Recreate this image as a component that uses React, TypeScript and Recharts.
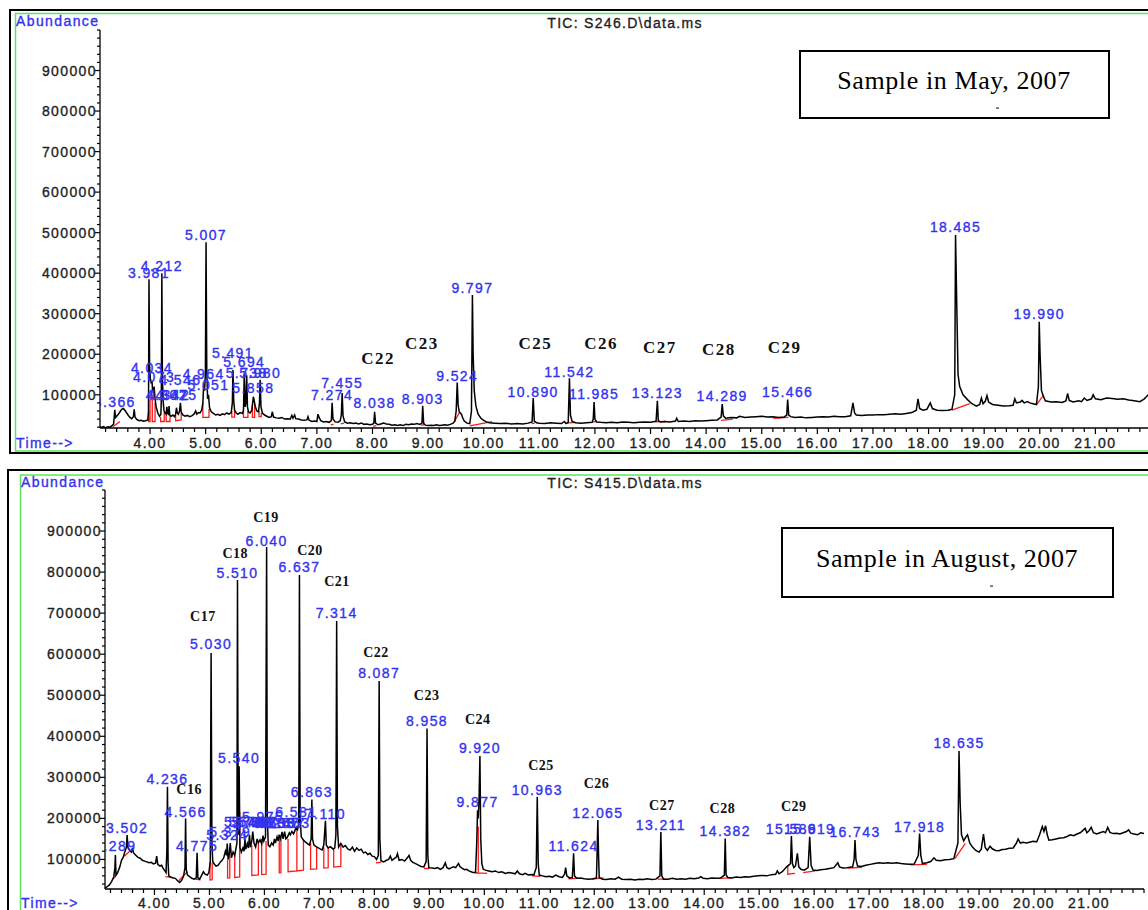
import React from "react";
import { ComposedChart, Line, Scatter, XAxis, YAxis } from "recharts";

type Pt = [number, number];

// ---------- S246.D : sample taken in May 2007 ----------
const mayPeakTimes = [
  3.366, 3.981, 4.034, 4.073, 4.212, 4.302, 4.342, 4.475, 4.546, 4.964, 5.007, 5.051,
  5.491, 5.694, 5.738, 5.858, 5.98, 7.274, 7.455, 8.038, 8.903, 9.524, 9.797, 10.89,
  11.542, 11.985, 13.123, 14.289, 15.466, 18.485, 19.99,
];
const mayPeakHeights = [
  63000, 385000, 135000, 120000, 400000, 70000, 72000, 68000, 80000, 125000, 476000, 100000,
  161000, 152000, 148000, 95000, 137000, 80000, 104000, 58000, 73000, 130000, 346000, 92000,
  141000, 82000, 85000, 77000, 88000, 494000, 280000,
];
// abundance at which each retention-time label sits
const mayLabelLevels = [
  70500, 388800, 153000, 131500, 406100, 87100, 87100, 87100, 124000, 138700, 481900, 111700,
  191500, 169300, 141800, 104400, 141800, 87100, 116700, 67300, 77200, 134000, 350300, 93700,
  144600, 88800, 91300, 84600, 93700, 502300, 286900,
];
// signal between the labelled apexes
const mayBackground: Pt[] = [
  [3.1, 21000], [3.13, 19500], [3.16, 21500], [3.2, 19000], [3.24, 21000], [3.28, 20000], [3.31, 23000], [3.345, 28000],
  [3.38, 44000], [3.4, 47000], [3.43, 52000], [3.46, 58000], [3.49, 64000], [3.52, 66000], [3.55, 61000], [3.58, 55000],
  [3.61, 49000], [3.64, 44000], [3.67, 41000], [3.7, 46000], [3.715, 64000], [3.73, 45000], [3.76, 39000], [3.8, 36000],
  [3.84, 37000], [3.88, 35000], [3.92, 36000], [3.96, 38000], [3.972, 60000],
  [3.992, 170000], [4.005, 140000], [4.02, 128000], [4.045, 112000], [4.06, 108000],
  [4.09, 90000], [4.11, 70000], [4.14, 55000], [4.17, 47000], [4.195, 52000], [4.203, 90000],
  [4.222, 150000], [4.235, 85000], [4.25, 62000], [4.27, 55000], [4.29, 52000], [4.315, 54000], [4.33, 52000],
  [4.355, 50000], [4.38, 47000], [4.41, 50000], [4.44, 46000], [4.46, 52000], [4.49, 55000], [4.51, 52000], [4.53, 60000],
  [4.56, 58000], [4.59, 50000], [4.63, 47000], [4.67, 49000], [4.71, 46000], [4.75, 48000], [4.79, 52000], [4.82, 60000],
  [4.84, 52000], [4.87, 56000], [4.9, 55000], [4.93, 63000], [4.95, 80000], [4.98, 110000], [4.995, 150000],
  [5.02, 160000], [5.035, 90000], [5.07, 68000], [5.1, 58000], [5.14, 54000], [5.18, 50000], [5.22, 52000], [5.26, 49000],
  [5.3, 53000], [5.34, 51000], [5.38, 55000], [5.42, 52000], [5.46, 56000], [5.48, 80000], [5.505, 85000], [5.52, 62000],
  [5.55, 55000], [5.58, 52000], [5.62, 56000], [5.66, 54000], [5.68, 62000], [5.71, 70000], [5.725, 80000],
  [5.752, 70000], [5.77, 58000], [5.8, 55000], [5.83, 62000], [5.845, 80000], [5.87, 88000], [5.89, 72000], [5.92, 60000],
  [5.95, 58000], [5.968, 80000], [5.995, 70000], [6.02, 55000], [6.06, 50000], [6.1, 47000], [6.14, 44000], [6.18, 46000],
  [6.2, 58000], [6.22, 45000], [6.27, 43000], [6.32, 42000], [6.37, 44000], [6.42, 40000], [6.47, 41000], [6.52, 40000],
  [6.55, 49000], [6.57, 42000], [6.6, 50000], [6.62, 41000], [6.67, 40000], [6.72, 38000], [6.77, 37000], [6.82, 38000],
  [6.84, 46000], [6.86, 37000], [6.91, 34000], [6.96, 35000], [7.0, 34000], [7.02, 52000], [7.04, 44000], [7.07, 36000],
  [7.12, 33000], [7.17, 34000], [7.22, 32000], [7.26, 36000], [7.29, 40000], [7.33, 33000], [7.38, 32000], [7.42, 36000],
  [7.44, 50000], [7.47, 48000], [7.5, 33000], [7.55, 30000], [7.6, 31000], [7.65, 29000], [7.7, 30000], [7.75, 28000],
  [7.8, 30000], [7.85, 27000], [7.9, 28000], [7.95, 26000], [8.0, 27000], [8.025, 30000], [8.055, 30000], [8.1, 26000],
  [8.15, 28000], [8.2, 30000], [8.25, 28000], [8.3, 27000], [8.35, 25000], [8.4, 26000], [8.45, 24000], [8.5, 26000],
  [8.55, 24000], [8.6, 27000], [8.65, 26000], [8.7, 28000], [8.75, 27000], [8.8, 29000], [8.85, 27000], [8.89, 30000],
  [8.92, 30000], [8.95, 25000], [9.0, 24000], [9.05, 25000], [9.1, 24000], [9.15, 26000], [9.2, 24000], [9.25, 25000],
  [9.3, 26000], [9.35, 25000], [9.4, 27000], [9.45, 30000], [9.48, 35000], [9.505, 60000], [9.54, 75000], [9.56, 58000],
  [9.58, 55000], [9.6, 52000], [9.62, 44000], [9.65, 35000], [9.7, 30000], [9.75, 29000], [9.78, 60000],
  [9.81, 200000], [9.83, 110000], [9.86, 72000], [9.9, 52000], [9.95, 42000], [10.0, 37000], [10.05, 33000], [10.1, 31000],
  [10.2, 30000], [10.3, 29000], [10.4, 30000], [10.5, 28000], [10.6, 29000], [10.7, 28000], [10.8, 30000], [10.87, 33000],
  [10.91, 35000], [10.95, 31000], [11.0, 30000], [11.1, 29000], [11.2, 31000], [11.3, 30000], [11.4, 29000], [11.45, 34000],
  [11.48, 29000], [11.52, 32000], [11.56, 50000], [11.59, 34000], [11.65, 31000], [11.75, 30000], [11.85, 31000],
  [11.95, 32000], [11.97, 40000], [12.0, 40000], [12.03, 33000], [12.1, 32000], [12.2, 31000], [12.3, 32000], [12.4, 31000],
  [12.5, 33000], [12.6, 32000], [12.7, 31000], [12.8, 32000], [12.9, 33000], [13.0, 32000], [13.1, 35000], [13.14, 36000],
  [13.18, 33000], [13.25, 34000], [13.35, 33000], [13.45, 35000], [13.47, 42000], [13.5, 34000], [13.6, 35000],
  [13.7, 34000], [13.8, 36000], [13.9, 35000], [14.0, 36000], [14.1, 37000], [14.2, 38000], [14.27, 45000], [14.31, 48000],
  [14.35, 42000], [14.45, 44000], [14.55, 43000], [14.6, 47000], [14.7, 44000], [14.8, 45000], [14.9, 46000], [15.0, 47000],
  [15.1, 45000], [15.2, 46000], [15.3, 44000], [15.4, 45000], [15.45, 50000], [15.485, 50000], [15.52, 46000],
  [15.6, 44000], [15.7, 45000], [15.8, 43000], [15.9, 44000], [16.0, 45000], [16.1, 46000], [16.2, 45000], [16.3, 47000],
  [16.4, 46000], [16.5, 46000], [16.6, 48000], [16.64, 80000], [16.67, 55000], [16.7, 50000], [16.8, 49000], [16.9, 50000],
  [17.0, 50000], [17.1, 51000], [17.2, 51000], [17.3, 52000], [17.4, 53000], [17.5, 52000], [17.6, 54000], [17.7, 56000],
  [17.78, 62000], [17.81, 90000], [17.84, 66000], [17.9, 62000], [17.97, 64000], [18.03, 80000], [18.07, 66000],
  [18.15, 62000], [18.25, 61000], [18.35, 62000], [18.42, 64000], [18.47, 100000],
  [18.51, 300000], [18.53, 150000], [18.56, 120000], [18.62, 100000], [18.7, 88000], [18.78, 78000], [18.86, 72000],
  [18.92, 76000], [18.95, 92000], [18.98, 78000], [19.02, 84000], [19.05, 98000], [19.08, 82000], [19.15, 76000],
  [19.25, 74000], [19.35, 72000], [19.45, 73000], [19.52, 74000], [19.55, 90000], [19.58, 80000], [19.65, 82000],
  [19.68, 86000], [19.72, 80000], [19.78, 83000], [19.82, 80000], [19.88, 78000], [19.94, 76000], [19.975, 120000],
  [20.005, 200000], [20.03, 110000], [20.06, 98000], [20.1, 85000], [20.2, 82000], [20.3, 83000], [20.4, 81000],
  [20.47, 85000], [20.5, 103000], [20.53, 86000], [20.6, 82000], [20.7, 85000], [20.75, 83000], [20.8, 92000],
  [20.85, 86000], [20.93, 90000], [20.96, 100000], [21.0, 90000], [21.1, 88000], [21.2, 92000], [21.3, 91000],
  [21.4, 89000], [21.5, 90000], [21.6, 87000], [21.7, 85000], [21.8, 83000], [21.88, 90000], [21.95, 100000], [22.0, 98000],
];
// integration baselines and drop lines
const mayIntegration: Pt[][] = [
  [[3.33, 21000], [3.46, 34000]],
  [[3.975, 60000], [3.975, 34000], [4.0, 34000], [4.0, 90000]],
  [[4.04, 100000], [4.04, 34000], [4.09, 34000], [4.09, 80000]],
  [[4.19, 45000], [4.19, 34000], [4.255, 34000], [4.255, 60000]],
  [[4.29, 50000], [4.29, 34000], [4.36, 34000], [4.36, 48000]],
  [[4.46, 50000], [4.46, 36000], [4.56, 38000], [4.56, 56000]],
  [[4.95, 80000], [4.95, 44000], [5.06, 44000], [5.06, 65000]],
  [[5.47, 60000], [5.47, 45000], [5.52, 45000], [5.52, 60000]],
  [[5.68, 60000], [5.68, 44000], [5.76, 44000], [5.76, 60000]],
  [[5.84, 75000], [5.84, 44000], [5.88, 44000], [5.88, 80000]],
  [[5.96, 60000], [5.96, 46000], [6.0, 46000], [6.0, 55000]],
  [[7.25, 26000], [7.3, 27000]],
  [[7.43, 28000], [7.49, 30000]],
  [[8.01, 22000], [8.07, 24000]],
  [[8.87, 25000], [8.93, 26000]],
  [[9.47, 33000], [9.56, 55000]],
  [[9.75, 23000], [10.15, 34000]],
  [[10.86, 29000], [10.92, 30000]],
  [[11.49, 30000], [11.66, 32000]],
  [[11.96, 33000], [12.03, 34000]],
  [[13.07, 33000], [13.28, 34000]],
  [[14.27, 37000], [14.48, 40000]],
  [[15.21, 42000], [15.48, 44000]],
  [[18.42, 62000], [18.74, 78000]],
  [[19.95, 77000], [20.07, 100000]],
];
const mayAlkaneNames = ["C22", "C23", "C25", "C26", "C27", "C28", "C29"];
const mayAlkaneTimes = [8.1, 8.89, 10.93, 12.11, 13.17, 14.23, 15.41];
const mayAlkaneLevels = [190700, 225300, 225300, 225300, 215400, 212900, 215400];

// ---------- S415.D : sample taken in August 2007 ----------
const augPeakTimes = [
  3.289, 3.502, 4.236, 4.566, 4.775, 5.03, 5.324, 5.379, 5.51, 5.54, 5.646, 5.728, 5.788,
  5.867, 5.975, 6.04, 6.183, 6.267, 6.367, 6.453, 6.581, 6.637, 6.863, 7.11, 7.314, 8.087,
  8.958, 9.877, 9.92, 10.963, 11.624, 12.065, 13.211, 14.382, 15.586, 15.919, 16.743,
  17.918, 18.635,
];
const augPeakHeights = [
  111000, 159500, 277000, 200000, 116000, 603000, 139000, 140000, 781000, 327000, 150000, 160000, 168000,
  150000, 158000, 861000, 150000, 160000, 168000, 165000, 178000, 793000, 246000, 194000, 681000, 535000,
  419000, 220000, 352000, 253000, 115000, 196000, 167000, 151000, 157000, 155000, 147000,
  163000, 364000,
];
const augLabelLevels = [
  120600, 163700, 283800, 204100, 120600, 612000, 147400, 155400, 784900, 334200, 179000, 179000, 179000,
  179000, 191200, 864300, 176600, 176600, 176600, 176600, 204100, 800200, 251400, 198500, 687400, 542000,
  425100, 227000, 358600, 257000, 121300, 200200, 171700, 157800, 161900, 161900, 155400,
  167600, 370700,
];
const augBackground: Pt[] = [
  [3.1, 30000], [3.14, 34000], [3.18, 38000], [3.22, 46000], [3.26, 58000], [3.28, 80000],
  [3.3, 62000], [3.33, 68000], [3.37, 82000], [3.4, 98000], [3.43, 105000], [3.46, 118000], [3.49, 130000],
  [3.52, 128000], [3.55, 122000], [3.58, 118000], [3.6, 128000], [3.62, 116000], [3.66, 110000], [3.7, 105000],
  [3.74, 103000], [3.78, 98000], [3.82, 96000], [3.86, 94000], [3.9, 92000], [3.94, 93000], [3.98, 89000],
  [4.02, 91000], [4.04, 108000], [4.06, 88000], [4.1, 84000], [4.13, 86000], [4.15, 80000], [4.18, 74000],
  [4.21, 68000], [4.225, 120000], [4.248, 90000], [4.26, 60000], [4.3, 57000], [4.34, 55000], [4.38, 54000],
  [4.42, 48000], [4.46, 44000], [4.5, 50000], [4.53, 60000], [4.555, 80000], [4.578, 75000], [4.6, 62000],
  [4.64, 58000], [4.68, 54000], [4.72, 52000], [4.76, 55000], [4.79, 55000], [4.82, 52000], [4.86, 62000],
  [4.89, 70000], [4.92, 64000], [4.96, 62000], [4.99, 68000], [5.015, 95000], [5.045, 140000], [5.06, 95000],
  [5.09, 88000], [5.12, 84000], [5.16, 86000], [5.2, 94000], [5.23, 98000], [5.26, 104000], [5.29, 120000],
  [5.31, 110000], [5.34, 100000], [5.36, 112000], [5.4, 104000], [5.43, 118000], [5.46, 110000], [5.48, 125000],
  [5.5, 140000], [5.522, 200000], [5.53, 160000], [5.555, 130000], [5.58, 118000], [5.61, 128000], [5.63, 120000],
  [5.66, 125000], [5.69, 139000], [5.71, 128000], [5.745, 130000], [5.77, 145000], [5.81, 140000], [5.84, 130000],
  [5.89, 140000], [5.92, 148000], [5.95, 138000], [5.99, 145000], [6.02, 155000], [6.052, 200000], [6.07, 135000],
  [6.1, 131000], [6.13, 140000], [6.16, 135000], [6.2, 140000], [6.23, 155000], [6.25, 145000], [6.29, 150000],
  [6.32, 167000], [6.34, 150000], [6.39, 150000], [6.41, 152000], [6.43, 158000], [6.47, 160000], [6.5, 168000],
  [6.53, 162000], [6.56, 172000], [6.6, 170000], [6.625, 190000], [6.65, 200000], [6.67, 155000], [6.71, 147000],
  [6.75, 142000], [6.79, 138000], [6.82, 135000], [6.85, 150000], [6.875, 150000], [6.9, 135000], [6.94, 131000],
  [6.98, 128000], [7.02, 125000], [7.05, 123000], [7.08, 135000], [7.125, 135000], [7.16, 128000], [7.2, 131000],
  [7.25, 125000], [7.28, 128000], [7.3, 160000], [7.328, 180000], [7.35, 130000], [7.39, 139000], [7.43, 130000],
  [7.47, 134000], [7.52, 125000], [7.56, 123000], [7.6, 130000], [7.64, 120000], [7.68, 128000], [7.72, 122000],
  [7.76, 125000], [7.8, 116000], [7.84, 118000], [7.88, 112000], [7.92, 115000], [7.96, 108000], [8.0, 107000],
  [8.04, 100000], [8.072, 110000], [8.1, 150000], [8.12, 97000], [8.17, 94000], [8.22, 98000], [8.26, 100000],
  [8.29, 108000], [8.32, 98000], [8.36, 102000], [8.4, 106000], [8.42, 114000], [8.45, 98000], [8.5, 100000],
  [8.55, 96000], [8.6, 104000], [8.63, 110000], [8.66, 98000], [8.7, 93000], [8.75, 90000], [8.8, 86000],
  [8.85, 83000], [8.9, 82000], [8.942, 95000], [8.972, 110000], [8.99, 80000], [9.05, 79000], [9.1, 78000],
  [9.15, 80000], [9.2, 76000], [9.25, 80000], [9.29, 92000], [9.32, 80000], [9.36, 77000], [9.4, 80000],
  [9.44, 82000], [9.48, 80000], [9.51, 86000], [9.53, 90000], [9.56, 82000], [9.6, 78000], [9.64, 75000],
  [9.68, 76000], [9.72, 72000], [9.76, 70000], [9.8, 68000], [9.84, 68000], [9.862, 140000], [9.89, 200000],
  [9.905, 250000], [9.935, 150000], [9.955, 90000], [9.98, 76000], [10.02, 74000], [10.08, 72000], [10.14, 70000],
  [10.2, 72000], [10.26, 68000], [10.32, 70000], [10.38, 66000], [10.44, 68000], [10.5, 67000], [10.56, 65000],
  [10.6, 72000], [10.64, 65000], [10.7, 63000], [10.74, 66000], [10.8, 62000], [10.86, 63000], [10.9, 62000],
  [10.945, 80000], [10.98, 90000], [11.0, 62000], [11.06, 60000], [11.12, 58000], [11.18, 59000], [11.24, 57000],
  [11.3, 62000], [11.36, 58000], [11.42, 56000], [11.46, 64000], [11.48, 80000], [11.5, 60000], [11.55, 55000],
  [11.6, 56000], [11.612, 80000], [11.64, 60000], [11.68, 54000], [11.75, 55000], [11.82, 53000], [11.9, 52000],
  [11.98, 53000], [12.04, 55000], [12.052, 120000], [12.078, 110000], [12.09, 56000], [12.15, 52000], [12.22, 51000],
  [12.3, 53000], [12.38, 52000], [12.44, 57000], [12.5, 52000], [12.58, 51000], [12.66, 52000], [12.74, 50000],
  [12.82, 52000], [12.9, 51000], [12.96, 53000], [13.05, 51000], [13.12, 52000], [13.195, 60000], [13.228, 60000],
  [13.26, 52000], [13.34, 52000], [13.42, 54000], [13.5, 52000], [13.58, 53000], [13.66, 52000], [13.74, 54000],
  [13.82, 53000], [13.9, 55000], [13.94, 58000], [13.98, 54000], [14.06, 53000], [14.14, 55000], [14.22, 54000],
  [14.3, 55000], [14.366, 62000], [14.398, 62000], [14.43, 56000], [14.5, 55000], [14.58, 57000], [14.66, 56000],
  [14.74, 58000], [14.82, 57000], [14.9, 59000], [14.98, 60000], [15.06, 61000], [15.14, 60000], [15.22, 63000],
  [15.3, 64000], [15.33, 72000], [15.36, 65000], [15.42, 70000], [15.5, 82000], [15.57, 90000], [15.605, 90000],
  [15.63, 80000], [15.66, 84000], [15.695, 115000], [15.72, 82000], [15.76, 76000], [15.82, 74000], [15.89, 80000],
  [15.945, 85000], [15.98, 74000], [16.05, 73000], [16.12, 75000], [16.2, 76000], [16.28, 78000], [16.36, 80000],
  [16.43, 92000], [16.46, 82000], [16.52, 79000], [16.6, 80000], [16.7, 82000], [16.727, 100000], [16.76, 100000],
  [16.79, 84000], [16.86, 83000], [16.94, 86000], [17.02, 88000], [17.1, 90000], [17.18, 92000], [17.26, 91000],
  [17.34, 92000], [17.42, 91000], [17.5, 92000], [17.58, 90000], [17.66, 89000], [17.74, 88000], [17.82, 89000],
  [17.895, 110000], [17.94, 110000], [17.97, 90000], [18.05, 92000], [18.12, 95000], [18.18, 104000], [18.22, 98000],
  [18.3, 97000], [18.38, 99000], [18.46, 100000], [18.54, 102000], [18.615, 140000], [18.655, 240000], [18.68, 160000],
  [18.72, 145000], [18.76, 155000], [18.79, 160000], [18.83, 140000], [18.88, 130000], [18.94, 122000], [19.0, 118000],
  [19.04, 125000], [19.08, 162000], [19.11, 130000], [19.15, 122000], [19.2, 132000], [19.24, 126000], [19.3, 122000],
  [19.36, 121000], [19.42, 124000], [19.48, 125000], [19.55, 127000], [19.62, 128000], [19.68, 140000], [19.71, 150000],
  [19.75, 140000], [19.8, 142000], [19.86, 140000], [19.92, 142000], [19.98, 144000], [20.05, 143000], [20.1, 160000],
  [20.15, 180000], [20.18, 168000], [20.21, 182000], [20.24, 160000], [20.27, 147000], [20.33, 148000], [20.4, 150000],
  [20.47, 152000], [20.54, 153000], [20.6, 156000], [20.66, 160000], [20.72, 158000], [20.78, 162000], [20.84, 165000],
  [20.9, 172000], [20.93, 176000], [20.96, 165000], [21.0, 170000], [21.04, 178000], [21.08, 165000], [21.14, 162000],
  [21.2, 165000], [21.26, 168000], [21.3, 165000], [21.34, 178000], [21.38, 166000], [21.44, 163000], [21.5, 164000],
  [21.56, 162000], [21.62, 165000], [21.68, 168000], [21.72, 172000], [21.76, 164000], [21.82, 162000], [21.88, 160000],
  [21.94, 165000], [22.0, 163000],
];
const augIntegration: Pt[][] = [
  [[3.25, 52000], [3.33, 68000]],
  [[3.45, 108000], [3.55, 120000]],
  [[4.2, 58000], [4.32, 56000]],
  [[4.44, 48000], [4.6, 70000]],
  [[4.74, 52000], [4.84, 50000]],
  [[5.01, 94000], [5.01, 50000], [5.05, 50500], [5.05, 92000]],
  [[5.33, 100000], [5.33, 54500], [5.37, 55000], [5.37, 110000]],
  [[5.46, 110000], [5.46, 56000], [5.55, 57500], [5.55, 215000]],
  [[5.77, 135000], [5.77, 61000], [5.89, 62500], [5.89, 142000]],
  [[5.95, 150000], [5.95, 63000], [6.03, 64000], [6.03, 145000]],
  [[6.27, 150000], [6.27, 67500], [6.3, 68000], [6.3, 155000]],
  [[6.43, 150000], [6.43, 70000], [6.59, 72000], [6.59, 170000], [6.59, 72000], [6.71, 74000], [6.71, 147000]],
  [[6.84, 140000], [6.84, 76000], [6.95, 77000], [6.95, 130000]],
  [[7.08, 130000], [7.08, 79000], [7.16, 80000], [7.16, 128000]],
  [[7.26, 125000], [7.26, 81500], [7.39, 83000], [7.39, 139000]],
  [[8.03, 92000], [8.12, 93000]],
  [[8.9, 78000], [9.0, 78000]],
  [[9.84, 67000], [9.89, 67000], [9.89, 180000], [9.89, 67000], [10.05, 66000]],
  [[10.87, 60000], [11.02, 59000]],
  [[11.53, 53000], [11.69, 54000]],
  [[11.96, 52000], [12.17, 55000]],
  [[13.15, 52000], [13.3, 52000]],
  [[14.25, 54000], [14.49, 55000]],
  [[15.52, 86000], [15.52, 64000], [15.65, 66000]],
  [[15.8, 68000], [16.02, 72000]],
  [[16.62, 79000], [16.87, 81000]],
  [[17.75, 87000], [18.05, 88000]],
  [[18.56, 102000], [18.75, 139000]],
];
const augAlkaneNames = ["C16", "C17", "C18", "C19", "C20", "C21", "C22", "C23", "C24", "C25", "C26", "C27", "C28", "C29"];
const augAlkaneTimes = [4.63, 4.88, 5.47, 6.03, 6.83, 7.32, 8.03, 8.95, 9.88, 11.03, 12.04, 13.23, 14.33, 15.63];
const augAlkaneLevels = [269200, 693000, 844100, 932500, 851400, 776600, 605300, 498900, 442100, 328400, 284500, 232600, 222900, 227800];

// axis labels
const xMajor = [4, 5, 6, 7, 8, 9, 10, 11, 12, 13, 14, 15, 16, 17, 18, 19, 20, 21];
const yMajor = [100000, 200000, 300000, 400000, 500000, 600000, 700000, 800000, 900000];

const SANS = "'Liberation Sans', Arial, sans-serif";
const SERIF = "'Liberation Serif', 'Times New Roman', serif";
const BLUE = "#3232f0";
const AXIS_TEXT = "#1e1e1e";

const xTicks: number[] = [];
for (let v = 32; v <= 220; v += 2) xTicks.push(v / 10);

function traceRows(background: Pt[], times: number[], heights: number[]) {
  return [...background, ...times.map((t, i) => [t, heights[i]] as Pt)]
    .sort((p, q) => p[0] - q[0])
    .map(([t, a]) => ({ t, a }));
}

function segmentRows(segments: Pt[][]) {
  const rows: { t: number; a: number | null }[] = [];
  segments.forEach((seg) => {
    seg.forEach(([t, a]) => rows.push({ t, a }));
    rows.push({ t: seg[seg.length - 1][0], a: null });
  });
  return rows;
}

// slightly heavier sans text, like the instrument printout
const heavy = (color: string) => ({ stroke: color, strokeWidth: 0.35, paintOrder: "stroke" as const });

interface PanelProps {
  trace: { t: number; a: number }[];
  integration: { t: number; a: number | null }[];
  labels: { t: number; a: number; text: string }[];
  alkanes: { t: number; a: number; text: string }[];
  yMin: number;
  width: number;
  height: number;
  margin: { top: number; right: number; bottom: number; left: number };
  yAxisWidth: number;
  xAxisHeight: number;
  tickLabelDy: number;
  alkaneSize: number;
}

const Panel: React.FC<PanelProps> = (p) => {
  const yTicks: number[] = [];
  for (let v = 20000; v <= 1000000; v += 20000) if (v >= p.yMin) yTicks.push(v);

  const renderXTick = (props: any) => {
    const { x, y, payload } = props;
    const v = Math.round(payload.value * 10) / 10;
    const major = xMajor.includes(v);
    return (
      <g>
        <line x1={x} x2={x} y1={y} y2={y + (major ? 6 : 4)} stroke="#000" strokeWidth={1.2} />
        {major && (
          <text x={x} y={y + p.tickLabelDy} textAnchor="middle" dominantBaseline="central"
            fontFamily={SANS} fontSize={14} letterSpacing={1.4} fill={AXIS_TEXT} {...heavy(AXIS_TEXT)}>
            {v.toFixed(2)}
          </text>
        )}
      </g>
    );
  };

  const renderYTick = (props: any) => {
    const { x, y, payload } = props;
    const major = yMajor.includes(payload.value);
    return (
      <g>
        <line x1={x - (major ? 5 : 3)} x2={x} y1={y} y2={y} stroke="#000" strokeWidth={1.2} />
        {major && (
          <text x={x - 3} y={y} textAnchor="end" dominantBaseline="central"
            fontFamily={SANS} fontSize={14} letterSpacing={1.4} fill={AXIS_TEXT} {...heavy(AXIS_TEXT)}>
            {payload.value}
          </text>
        )}
      </g>
    );
  };

  return (
    <ComposedChart width={p.width} height={p.height} margin={p.margin}>
      <XAxis type="number" dataKey="t" domain={[3.1, 22]} allowDataOverflow ticks={xTicks}
        interval={0} height={p.xAxisHeight} tickSize={0} tickMargin={0} tickLine={false}
        axisLine={{ stroke: "#000", strokeWidth: 1.3 }} tick={renderXTick} />
      <YAxis type="number" domain={[p.yMin, 1000000]} allowDataOverflow ticks={yTicks}
        interval={0} width={p.yAxisWidth} tickSize={0} tickMargin={0} tickLine={false}
        axisLine={{ stroke: "#000", strokeWidth: 1.3 }} tick={renderYTick} />
      <Line data={p.integration} dataKey="a" type="linear" stroke="#ff1a1a" strokeWidth={1.3}
        dot={false} isAnimationActive={false} connectNulls={false} />
      <Line data={p.trace} dataKey="a" type="linear" stroke="#000" strokeWidth={1.5}
        dot={false} isAnimationActive={false} />
      <Scatter data={p.labels} dataKey="a" isAnimationActive={false}
        shape={(s: any) => (
          <text x={s.cx} y={s.cy} textAnchor="middle" fontFamily={SANS} fontSize={14}
            letterSpacing={1.4} fill={BLUE} {...heavy(BLUE)}>
            {s.payload.text}
          </text>
        )} />
      <Scatter data={p.alkanes} dataKey="a" isAnimationActive={false}
        shape={(s: any) => (
          <text x={s.cx} y={s.cy} textAnchor="middle" dominantBaseline="central" fontFamily={SERIF}
            fontWeight="bold" fontSize={p.alkaneSize} letterSpacing={p.alkaneSize > 15 ? 1.5 : 0.5} fill="#111">
            {s.payload.text}
          </text>
        )} />
    </ComposedChart>
  );
};

const App: React.FC = () => {
  const mayTrace = traceRows(mayBackground, mayPeakTimes, mayPeakHeights);
  const augTrace = traceRows(augBackground, augPeakTimes, augPeakHeights);
  const mayLabels = mayPeakTimes.map((t, i) => ({ t, a: mayLabelLevels[i], text: t.toFixed(3) }));
  const augLabels = augPeakTimes.map((t, i) => ({ t, a: augLabelLevels[i], text: t.toFixed(3) }));
  const mayC = mayAlkaneNames.map((text, i) => ({ t: mayAlkaneTimes[i], a: mayAlkaneLevels[i], text }));
  const augC = augAlkaneNames.map((text, i) => ({ t: augAlkaneTimes[i], a: augAlkaneLevels[i], text }));

  const blueText = { fontFamily: SANS, fontSize: 14, letterSpacing: 1.4, fill: BLUE, ...heavy(BLUE) };
  const darkText = { fontFamily: SANS, fontSize: 14, letterSpacing: 1.3, fill: AXIS_TEXT, ...heavy(AXIS_TEXT) };
  const boxText = { fontFamily: SERIF, fontSize: 26, fill: "#000" };

  return (
    <div style={{ position: "relative", width: 1148, height: 910, overflow: "hidden", background: "#fff" }}>
      <style>{"html,body{margin:0;padding:0;overflow:hidden;background:#fff}"}</style>

      <div style={{ position: "absolute", left: 0, top: 0 }}>
        <Panel trace={mayTrace} integration={segmentRows(mayIntegration)} labels={mayLabels} alkanes={mayC}
          yMin={18000} width={1160} height={460} margin={{ top: 30, right: 9, bottom: 2, left: 10 }}
          yAxisWidth={90} xAxisHeight={30} tickLabelDy={15} alkaneSize={17} />
      </div>
      <div style={{ position: "absolute", left: 0, top: 460 }}>
        <Panel trace={augTrace} integration={segmentRows(augIntegration)} labels={augLabels} alkanes={augC}
          yMin={28000} width={1160} height={450} margin={{ top: 30, right: 16, bottom: 1, left: 10 }}
          yAxisWidth={95} xAxisHeight={20} tickLabelDy={14} alkaneSize={14} />
      </div>

      {/* frames, headers and sample boxes */}
      <svg width={1148} height={910} style={{ position: "absolute", left: 0, top: 0, pointerEvents: "none" }}>
        <rect x={10} y={10} width={1200} height={443} fill="none" stroke="#000" strokeWidth={2} />
        <rect x={15.5} y={13.5} width={1200} height={437.5} fill="none" stroke="#5fe35f" strokeWidth={1.5} />
        <rect x={8} y={470} width={1200} height={500} fill="none" stroke="#000" strokeWidth={2} />
        <rect x={20.5} y={475} width={1200} height={500} fill="none" stroke="#5fe35f" strokeWidth={1.5} />

        <text x={16} y={21} dominantBaseline="central" {...blueText}>Abundance</text>
        <text x={16} y={443} dominantBaseline="central" {...blueText}>{"Time-->"}</text>
        <text x={625} y={23} textAnchor="middle" dominantBaseline="central" {...darkText}>{"TIC: S246.D\\data.ms"}</text>

        <text x={21} y={482} dominantBaseline="central" {...blueText}>Abundance</text>
        <text x={21} y={903} dominantBaseline="central" {...blueText}>{"Time-->"}</text>
        <text x={625} y={483} textAnchor="middle" dominantBaseline="central" {...darkText}>{"TIC: S415.D\\data.ms"}</text>

        <rect x={800} y={51} width={309} height={67} fill="#fff" stroke="#000" strokeWidth={2} />
        <text x={954} y={80} textAnchor="middle" dominantBaseline="central" letterSpacing={0.6} {...boxText}>
          Sample in May, 2007
        </text>
        <rect x={996} y={107.5} width={3} height={1.2} fill="#333" />

        <rect x={782} y={528} width={331} height={69} fill="#fff" stroke="#000" strokeWidth={2} />
        <text x={947} y={558} textAnchor="middle" dominantBaseline="central" letterSpacing={0.55} {...boxText}>
          Sample in August, 2007
        </text>
        <rect x={990} y={585.5} width={3} height={1.2} fill="#333" />
      </svg>
    </div>
  );
};

export default App;
